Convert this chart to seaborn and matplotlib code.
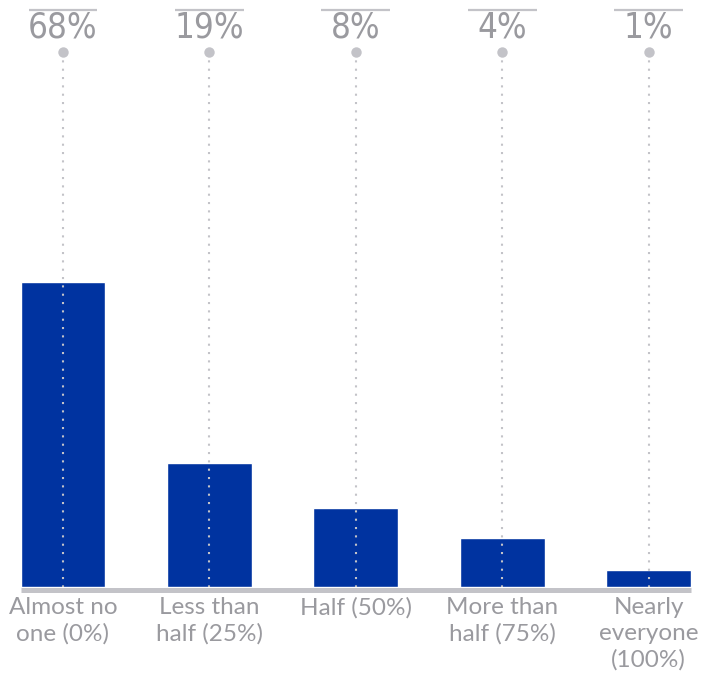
import matplotlib
matplotlib.use('Agg')
import matplotlib.pyplot as plt
from matplotlib import font_manager
import numpy as np
import pandas as pd
import seaborn as sns

categories = ['Almost no\none (0%)', 'Less than\nhalf (25%)', 'Half (50%)',
              'More than\nhalf (75%)', 'Nearly\neveryone\n(100%)']
pct_labels = ['68%', '19%', '8%', '4%', '1%']
# bar heights as drawn (not proportional to the labels)
bar_heights = [68, 27.6, 17.6, 10.9, 3.8]

blue = '#0033a0'
light = '#c3c3c8'
textgray = '#9a9a9f'

sns.set_style('white')
plt.rcParams['font.family'] = ['Lato', 'DejaVu Sans']

# look for a narrow face for the percentages
narrow = None
for f in font_manager.fontManager.ttflist:
    if ('Narrow' in f.name or 'Condensed' in f.name or f.stretch == 'condensed'
            or 'Condensed' in f.fname) and f.weight in (400, 'normal', 'regular') \
            and f.style == 'normal':
        narrow = f.fname
        break
if narrow:
    pct_font = font_manager.FontProperties(fname=narrow, size=25)
else:
    pct_font = font_manager.FontProperties(family='DejaVu Sans', size=22)

df = pd.DataFrame({'cat': categories, 'val': bar_heights})

fig = plt.figure(figsize=(7.03, 6.80), dpi=100)
ax = fig.add_axes([0, 0, 1, 1])
sns.barplot(data=df, x='cat', y='val', color=blue, saturation=1,
            width=0.58, ax=ax, zorder=2)

ax.set_xlim(-0.43, 4.37)
ax.set_ylim(-20.7, 130.9)
ax.axis('off')

# grey base bar
ax.plot([-0.29, 4.29], [-0.56, -0.56], color=light, lw=3.6,
        solid_capstyle='butt', zorder=3)

for i, (cat, pct) in enumerate(zip(categories, pct_labels)):
    ax.plot([i, i], [119.3, 0], color=light, lw=1.5, ls=(0, (1, 3)), zorder=4)
    ax.plot(i, 119.3, 'o', color=light, ms=7.5, mec='none', zorder=4)
    ax.plot([i - 0.235, i + 0.235], [128.6, 128.6], color=light, lw=1.6,
            solid_capstyle='butt')
    ax.text(i, 124.8, pct, ha='center', va='center', color=textgray,
            fontproperties=pct_font)
    ax.text(i, -2.3, cat, ha='center', va='top', fontsize=17.5,
            color=textgray, linespacing=1.28)

fig.savefig('out.png', dpi=100)
